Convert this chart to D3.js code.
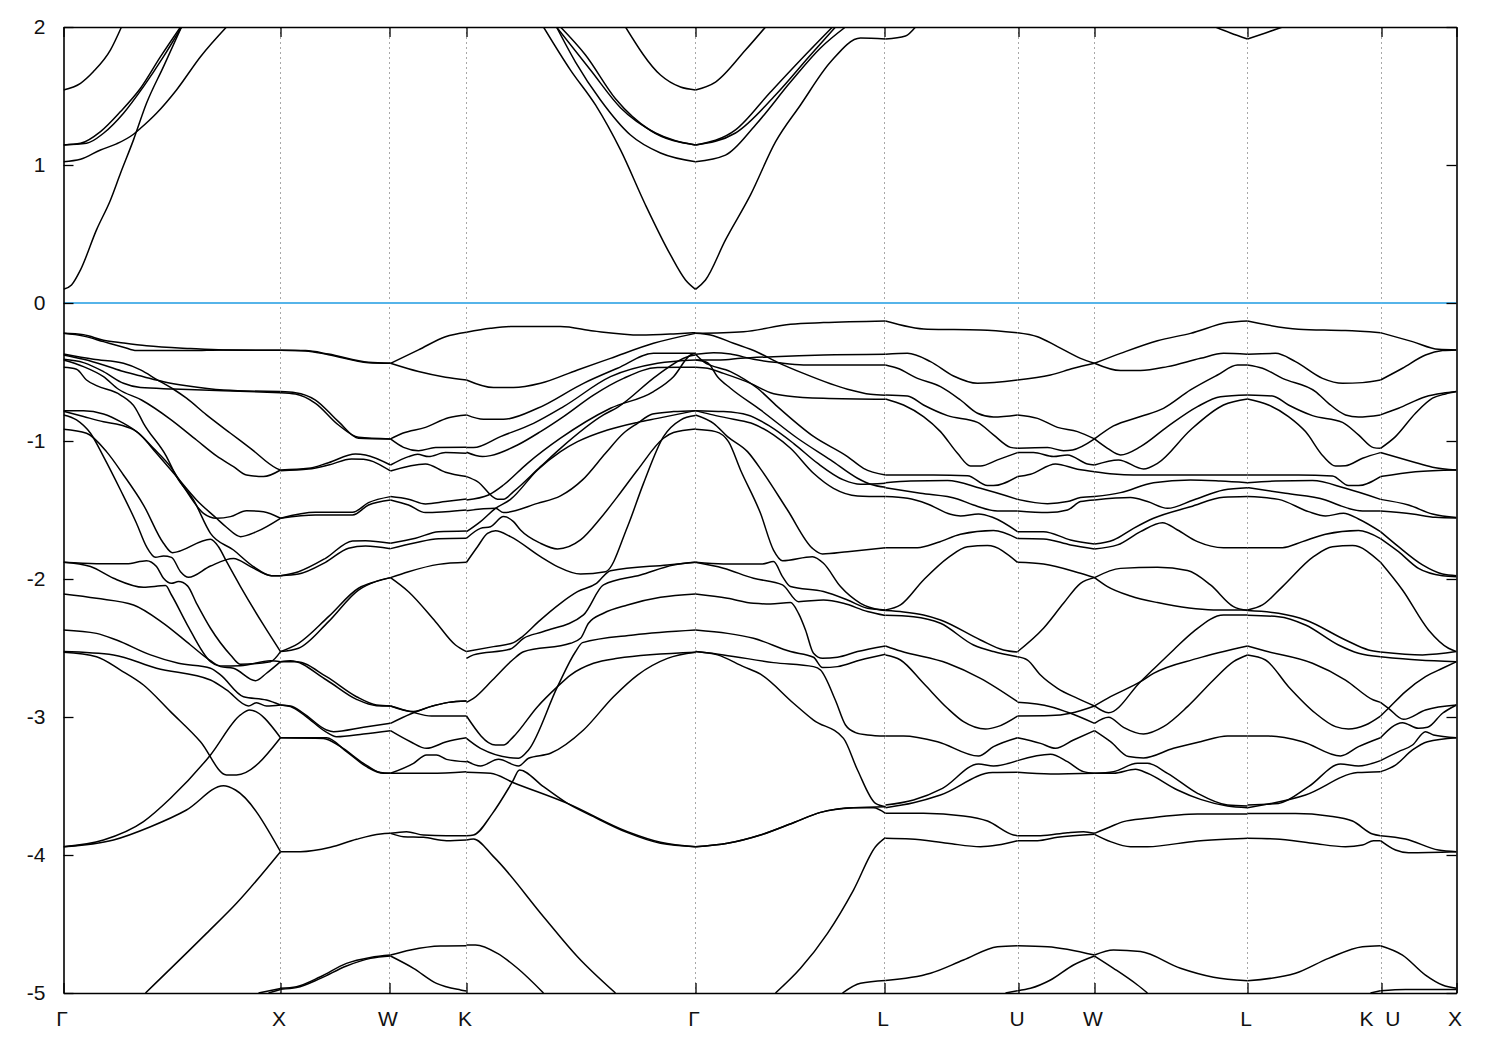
<!DOCTYPE html>
<html><head><meta charset="utf-8">
<script src="https://cdn.jsdelivr.net/npm/d3@7"></script>
<style>html,body{margin:0;padding:0;background:#fff}svg{display:block}</style>
</head><body><svg id="c" width="1500" height="1050"></svg>
<script>
const kTicks=[0,217,326,403,632,821,955,1031,1184,1318,1393];
const kLabels=["Γ","X","W","K","Γ","L","U","W","L","K  U","X"];
const energyTicks=[2,1,0,-1,-2,-3,-4,-5];
const fermiLevel=0;
// each band: k, E, k, E ...
const pathGammaX=[
[0,1.544,17,1.592,30,1.677,47,1.834,58,2],
[0,1.145,17,1.157,37,1.242,57,1.387,77,1.556,97,1.785,117,2],
[0,1.145,23,1.157,40,1.23,60,1.375,80,1.568,100,1.785,118,2],
[0,1.024,17,1.041,37,1.109,53,1.153,70,1.223,77,1.266,93,1.375,113,1.544,137,1.785,163,2],
[0,.099,8,.13,17,.24,33,.53,47,.747,57,.94,70,1.182,83,1.447,100,1.713,118,2],
[0,-.22,20,-.23,40,-.27,60,-.29,83,-.31,127,-.33,160,-.34,217,-.343],
[0,-.22,20,-.24,40,-.28,60,-.32,73,-.345,127,-.345,160,-.34,217,-.343],
[0,-.37,30,-.408,60,-.437,77,-.485,93,-.553,110,-.625,123,-.69,143,-.811,167,-.944,187,-1.053,213,-1.198,217,-1.21],
[0,-.377,20,-.408,40,-.449,60,-.497,80,-.534,100,-.57,123,-.599,160,-.63,217,-.642],
[0,-.408,20,-.432,40,-.497,60,-.582,77,-.613,110,-.623,160,-.635,217,-.65],
[0,-.413,20,-.461,40,-.534,55,-.625,78,-.703,107,-.843,133,-.993,153,-1.108,170,-1.186,183,-1.246,200,-1.258,217,-1.21],
[0,-.466,13,-.48,23,-.558,33,-.599,57,-.667,72,-.763,80,-.872,103,-1.113,113,-1.258,130,-1.427,147,-1.669,170,-1.79,190,-1.91,208,-1.976,217,-1.976],
[0,-.78,20,-.78,40,-.804,57,-.86,77,-.956,93,-1.089,113,-1.258,133,-1.427,153,-1.56,163,-1.625,177,-1.693,193,-1.657,217,-1.56],
[0,-.785,20,-.823,40,-.86,57,-.884,73,-.932,90,-1.053,107,-1.186,120,-1.331,140,-1.524,153,-1.56,167,-1.548,183,-1.505,200,-1.512,217,-1.56],
[0,-.811,13,-.847,27,-.944,40,-1.113,57,-1.355,73,-1.596,83,-1.766,92,-1.843,100,-1.833,108,-1.843,117,-1.947,125,-1.988,147,-1.906,170,-1.852,187,-1.91,208,-1.976,217,-1.976],
[0,-.915,23,-.944,43,-1.077,60,-1.246,80,-1.464,100,-1.741,109,-1.809,147,-1.712,155,-1.766,163,-1.873,177,-2.055,200,-2.333,217,-2.526],
[0,-1.879,33,-1.889,63,-1.889,83,-1.867,93,-1.91,100,-1.995,108,-2.031,115,-2.019,124,-2.05,133,-2.176,147,-2.357,167,-2.55,177,-2.618,207,-2.599,217,-2.526],
[0,-1.879,27,-1.91,50,-1.995,80,-2.06,102,-2.048,108,-2.116,123,-2.321,147,-2.599,157,-2.635,170,-2.647,192,-2.737,203,-2.683,217,-2.599],
[0,-2.109,33,-2.14,70,-2.188,100,-2.321,127,-2.478,147,-2.592,157,-2.63,177,-2.628,207,-2.592,217,-2.599],
[0,-2.369,33,-2.394,53,-2.442,87,-2.55,115,-2.611,147,-2.647,157,-2.695,180,-2.853,203,-2.877,217,-2.913],
[0,-2.526,50,-2.55,93,-2.647,147,-2.732,163,-2.804,185,-2.92,193,-2.896,203,-2.92,217,-2.913],
[0,-2.531,33,-2.563,57,-2.66,80,-2.768,107,-2.961,137,-3.179,163,-3.42,173,-3.42,217,-3.15],
[0,-3.94,40,-3.891,80,-3.758,107,-3.589,147,-3.275,177,-2.985,186,-2.949,217,-3.15],
[0,-3.94,50,-3.891,87,-3.795,123,-3.674,160,-3.498,172,-3.529,217,-3.976],
[82,-5,143,-4.568,173,-4.35,217,-3.976],
[195,-5,217,-4.968],
[205,-5,217,-4.975]
];
const pathXW=[
[217,-.343,242,-.345,265,-.37,305,-.43,327,-.437],
[217,-.343,242,-.347,265,-.375,305,-.433,327,-.437],
[217,-.642,232,-.65,252,-.703,275,-.86,295,-.98,327,-.985],
[217,-.65,232,-.66,252,-.727,275,-.884,295,-.973,327,-.985],
[217,-1.21,245,-1.198,265,-1.157,292,-1.094,302,-1.101,327,-1.174],
[217,-1.215,245,-1.203,265,-1.174,288,-1.13,300,-1.133,327,-1.217],
[217,-1.56,252,-1.517,289,-1.517,305,-1.447,327,-1.403],
[217,-1.56,252,-1.536,289,-1.536,305,-1.464,327,-1.427],
[217,-1.976,235,-1.947,262,-1.85,289,-1.724,302,-1.722,327,-1.741],
[217,-1.976,235,-1.964,262,-1.879,285,-1.777,302,-1.76,327,-1.78],
[217,-2.526,235,-2.466,265,-2.273,295,-2.067,312,-2.019,327,-1.99],
[217,-2.526,235,-2.502,265,-2.309,295,-2.08,312,-2.019,327,-1.99],
[217,-2.599,233,-2.599,263,-2.708,293,-2.853,313,-2.913,327,-2.92],
[217,-2.599,227,-2.592,263,-2.732,293,-2.872,313,-2.918,327,-2.92],
[217,-2.913,227,-2.92,240,-2.973,263,-3.094,270,-3.106,300,-3.075,327,-3.046],
[217,-2.913,227,-2.925,242,-2.993,262,-3.106,273,-3.143,300,-3.123,327,-3.099],
[217,-3.15,260,-3.155,277,-3.215,300,-3.336,317,-3.403,327,-3.408],
[217,-3.15,263,-3.15,283,-3.251,303,-3.36,320,-3.408,327,-3.408],
[217,-3.976,237,-3.976,267,-3.944,293,-3.886,317,-3.848,327,-3.843],
[217,-4.966,233,-4.954,257,-4.882,283,-4.785,307,-4.742,327,-4.725],
[217,-4.973,233,-4.961,257,-4.894,283,-4.804,307,-4.749,327,-4.732]
];
const pathWK=[
[327,-.437,355,-.34,382,-.244,403,-.212],
[327,-.437,355,-.497,382,-.538,403,-.558],
[327,-.985,339,-.944,362,-.901,385,-.831,403,-.811],
[327,-.985,340,-1.046,355,-1.07,372,-1.048,403,-1.046],
[327,-1.174,345,-1.113,354,-1.096,365,-1.113,382,-1.084,403,-1.089],
[327,-1.217,362,-1.166,382,-1.227,403,-1.258],
[327,-1.403,345,-1.422,362,-1.456,382,-1.439,403,-1.42],
[327,-1.427,345,-1.464,362,-1.519,382,-1.512,403,-1.5],
[327,-1.741,352,-1.705,375,-1.657,403,-1.652],
[327,-1.78,352,-1.737,375,-1.708,403,-1.705],
[327,-1.99,345,-1.947,375,-1.894,403,-1.879],
[327,-1.99,345,-2.092,372,-2.309,392,-2.478,403,-2.526],
[327,-2.92,347,-2.961,368,-2.993,403,-2.993],
[327,-2.92,350,-2.961,367,-2.925,385,-2.894,403,-2.884],
[327,-3.046,347,-2.978,367,-2.925,385,-2.894,403,-2.884],
[327,-3.099,347,-3.179,363,-3.227,383,-3.179,403,-3.15],
[327,-3.408,350,-3.336,363,-3.275,373,-3.275,383,-3.307,403,-3.324],
[327,-3.408,367,-3.408,403,-3.396],
[327,-3.843,343,-3.831,360,-3.855,383,-3.86,403,-3.86],
[327,-3.843,340,-3.867,360,-3.872,383,-3.896,403,-3.891],
[327,-4.725,347,-4.688,377,-4.659,403,-4.657],
[327,-4.732,350,-4.821,373,-4.93,397,-4.978,403,-4.986]
];
const pathKGamma=[
[480,2,507,1.688,532,1.435,557,1.109,582,.71,607,.348,622,.167,632,.099],
[493,2,512,1.746,537,1.471,567,1.217,597,1.087,632,1.024],
[493,2,527,1.688,557,1.415,592,1.232,632,1.145],
[497,2,522,1.797,552,1.48,587,1.25,632,1.145],
[562,2,597,1.652,617,1.565,632,1.544],
[403,-.212,427,-.183,447,-.171,497,-.171,530,-.203,577,-.232,610,-.224,632,-.215],
[403,-.558,430,-.613,450,-.613,477,-.582,514,-.485,547,-.401,590,-.292,632,-.22],
[403,-.811,420,-.843,440,-.843,474,-.763,520,-.582,554,-.473,590,-.365,632,-.365],
[403,-1.048,410,-1.048,437,-.968,470,-.872,500,-.751,547,-.534,594,-.437,632,-.413],
[403,-1.082,419,-1.113,427,-1.106,454,-1.029,477,-.932,500,-.823,530,-.667,560,-.546,594,-.468,632,-.466],
[403,-1.427,425,-1.391,440,-1.319,464,-1.162,497,-.98,547,-.763,590,-.642,610,-.534,627,-.377,632,-.365],
[403,-1.258,414,-1.294,434,-1.422,440,-1.422,450,-1.367,477,-1.186,497,-1.053,540,-.811,554,-.756,594,-.522,624,-.389,632,-.377],
[403,-1.657,417,-1.584,432,-1.488,447,-1.423,474,-1.21,497,-1.077,514,-1.005,544,-.92,574,-.865,594,-.836,632,-.78],
[403,-1.505,432,-1.488,440,-1.519,474,-1.452,497,-1.398,519,-1.282,542,-1.089,560,-.944,574,-.872,589,-.804,610,-.787,632,-.78],
[403,-1.705,417,-1.633,427,-1.621,440,-1.548,450,-1.584,457,-1.645,477,-1.741,494,-1.782,517,-1.717,537,-1.56,554,-1.403,574,-1.21,600,-.98,610,-.939,632,-.913],
[403,-1.879,414,-1.766,424,-1.669,432,-1.65,447,-1.693,477,-1.838,494,-1.91,517,-1.964,542,-1.947,564,-1.621,580,-1.307,600,-.968,617,-.848,632,-.816],
[403,-2.526,430,-2.49,450,-2.461,459,-2.417,475,-2.309,497,-2.176,514,-2.092,533,-2.031,547,-1.94,604,-1.898,632,-1.879],
[403,-2.575,410,-2.55,447,-2.507,460,-2.43,480,-2.381,520,-2.26,540,-2.043,577,-1.971,610,-1.898,632,-1.879],
[403,-2.894,410,-2.865,429,-2.732,449,-2.587,460,-2.527,507,-2.466,517,-2.43,525,-2.321,540,-2.248,564,-2.188,597,-2.133,632,-2.109],
[403,-2.993,432,-3.203,440,-3.203,450,-3.142,474,-2.925,494,-2.78,507,-2.696,530,-2.611,554,-2.575,632,-2.531],
[403,-3.155,417,-3.227,455,-3.299,465,-3.239,494,-2.78,512,-2.527,519,-2.461,570,-2.405,632,-2.369],
[403,-3.319,417,-3.355,435,-3.307,455,-3.355,465,-3.299,487,-3.263,520,-3.094,550,-2.853,574,-2.696,604,-2.575,632,-2.531],
[403,-3.401,427,-3.408,450,-3.476,504,-3.626,564,-3.831,597,-3.908,632,-3.94],
[403,-3.86,410,-3.855,429,-3.698,449,-3.469,456,-3.384,480,-3.505,504,-3.626,530,-3.722,564,-3.838,597,-3.915,632,-3.94],
[403,-3.891,410,-3.884,430,-4.012,480,-4.447,514,-4.737,552,-5],
[403,-4.652,412,-4.652,434,-4.713,454,-4.821,480,-5]
];
const pathGammaL=[
[632,1.544,652,1.601,682,1.833,702,2],
[632,1.145,672,1.232,712,1.507,747,1.797,772,2],
[632,1.145,672,1.254,707,1.529,737,1.761,769,2],
[632,1.024,662,1.072,692,1.29,727,1.601,757,1.848,782,2],
[632,.099,642,.167,662,.457,687,.783,712,1.167,737,1.435,767,1.746,797,1.92,822,1.913],
[632,-.22,680,-.208,727,-.154,760,-.142,822,-.13],
[632,-.22,647,-.232,670,-.292,694,-.357,714,-.43,740,-.51,784,-.625,807,-.662,822,-.669],
[632,-.413,657,-.413,677,-.401,710,-.389,760,-.377,822,-.372],
[632,-.372,650,-.36,667,-.37,690,-.408,714,-.432,740,-.449,822,-.449],
[632,-.372,640,-.425,667,-.497,694,-.618,714,-.751,750,-.967,784,-1.113,800,-1.198,822,-1.246],
[632,-.466,644,-.473,660,-.51,687,-.582,707,-.65,724,-.674,760,-.691,822,-.698],
[632,-.413,644,-.432,654,-.534,667,-.618,697,-.775,734,-.98,767,-1.137,794,-1.27,807,-1.314,822,-1.336],
[632,-.78,660,-.787,684,-.811,707,-.896,730,-1.017,754,-1.161,780,-1.282,797,-1.314,822,-1.307],
[632,-.78,647,-.807,670,-.843,690,-.877,710,-.956,727,-1.053,750,-1.234,770,-1.343,794,-1.398,822,-1.403],
[632,-.811,650,-.872,664,-.968,684,-1.077,699,-1.222,724,-1.5,749,-1.778,759,-1.819,784,-1.802,822,-1.773],
[632,-.915,652,-.932,665,-1.005,677,-1.21,697,-1.524,710,-1.79,719,-1.867,749,-1.838,760,-1.886,777,-2.055,797,-2.176,817,-2.224,822,-2.229],
[632,-1.879,660,-1.891,699,-1.891,710,-1.874,719,-1.983,727,-2.055,760,-2.091,784,-2.152,804,-2.212,822,-2.224],
[632,-1.879,660,-1.922,690,-1.995,719,-2.043,735,-2.164,760,-2.152,780,-2.176,804,-2.236,822,-2.265],
[632,-2.109,664,-2.14,690,-2.176,707,-2.181,727,-2.171,735,-2.249,742,-2.369,750,-2.538,759,-2.575,774,-2.567,794,-2.526,822,-2.485],
[632,-2.369,664,-2.394,690,-2.43,727,-2.526,750,-2.567,759,-2.642,774,-2.635,797,-2.587,822,-2.546],
[632,-2.526,660,-2.55,710,-2.606,750,-2.635,757,-2.659,772,-2.88,782,-3.058,792,-3.113,804,-3.13,822,-3.138],
[632,-2.526,654,-2.55,680,-2.635,697,-2.69,730,-2.9,750,-3.022,780,-3.155,794,-3.384,812,-3.626,822,-3.65],
[632,-3.94,664,-3.915,697,-3.855,730,-3.766,757,-3.691,790,-3.657,822,-3.65],
[632,-3.94,664,-3.915,697,-3.855,730,-3.766,757,-3.691,790,-3.657,810,-3.657,822,-3.698],
[712,-5,737,-4.821,764,-4.568,790,-4.254,812,-3.94,822,-3.874],
[779,-5,797,-4.93,822,-4.91]
];
const pathLU=[
[822,1.913,842,1.935,852,2],
[822,-.13,864,-.19,917,-.195,954,-.215],
[822,-.372,844,-.365,867,-.425,890,-.529,914,-.582,954,-.558],
[822,-.449,834,-.473,854,-.546,877,-.606,897,-.703,914,-.799,930,-.826,954,-.811],
[822,-.667,844,-.674,860,-.739,884,-.816,914,-.865,930,-.956,947,-1.046,954,-1.053],
[822,-.695,840,-.739,860,-.823,877,-.932,894,-1.089,907,-1.181,917,-1.181,934,-1.137,954,-1.084],
[822,-1.246,870,-1.246,904,-1.251,924,-1.323,930,-1.323,954,-1.258],
[822,-1.302,847,-1.29,884,-1.287,917,-1.343,954,-1.423],
[822,-1.338,857,-1.379,894,-1.42,910,-1.464,934,-1.507,954,-1.507],
[822,-1.403,844,-1.415,864,-1.456,887,-1.531,897,-1.543,915,-1.529,929,-1.553,954,-1.657],
[822,-1.773,854,-1.773,874,-1.736,897,-1.676,930,-1.649,954,-1.707],
[822,-2.224,837,-2.188,860,-2.007,885,-1.843,904,-1.766,924,-1.758,954,-1.879],
[822,-2.229,840,-2.239,860,-2.261,877,-2.297,917,-2.442,940,-2.514,954,-2.529],
[822,-2.263,850,-2.273,877,-2.321,910,-2.478,930,-2.526,954,-2.563],
[822,-2.485,837,-2.522,884,-2.611,917,-2.72,954,-2.889],
[822,-2.551,837,-2.587,860,-2.756,884,-2.937,900,-3.034,922,-3.087,934,-3.07,954,-2.993],
[822,-3.138,840,-3.138,874,-3.179,915,-3.283,930,-3.215,954,-3.15],
[822,-3.638,850,-3.601,879,-3.517,915,-3.341,930,-3.355,954,-3.316],
[822,-3.657,850,-3.621,877,-3.565,929,-3.403,954,-3.401],
[822,-3.698,860,-3.698,900,-3.717,924,-3.754,950,-3.855,954,-3.86],
[822,-3.879,847,-3.884,884,-3.915,917,-3.94,934,-3.928,954,-3.896],
[822,-4.91,867,-4.857,900,-4.761,934,-4.664,954,-4.657],
[942,-5,954,-4.983]
];
const pathUW=[
[954,-.215,974,-.244,994,-.316,1017,-.401,1031,-.437],
[954,-.558,987,-.522,1010,-.473,1031,-.437],
[954,-.811,974,-.836,994,-.901,1014,-.932,1031,-.985],
[954,-1.053,984,-1.048,1000,-1.07,1009,-1.065,1031,-.985],
[954,-1.084,970,-1.084,990,-1.113,1004,-1.101,1024,-1.166,1031,-1.174],
[954,-1.258,967,-1.241,992,-1.166,1014,-1.205,1031,-1.222],
[954,-1.423,984,-1.454,1004,-1.439,1017,-1.41,1031,-1.403],
[954,-1.507,984,-1.519,1004,-1.5,1017,-1.439,1031,-1.427],
[954,-1.657,980,-1.657,1007,-1.717,1031,-1.746],
[954,-1.707,980,-1.71,1007,-1.753,1031,-1.782],
[954,-1.879,980,-1.891,1017,-1.959,1031,-1.99],
[954,-2.527,980,-2.357,1000,-2.176,1017,-2.031,1031,-1.99],
[954,-2.563,964,-2.587,977,-2.696,994,-2.792,1014,-2.865,1031,-2.92],
[954,-2.894,987,-2.925,1007,-2.973,1031,-3.046],
[954,-2.993,987,-2.99,1007,-2.973,1031,-2.92],
[954,-3.15,977,-3.191,992,-3.227,1010,-3.167,1031,-3.099],
[954,-3.316,987,-3.27,1004,-3.324,1020,-3.396,1031,-3.408],
[954,-3.401,987,-3.413,1031,-3.408],
[954,-3.86,977,-3.86,1004,-3.838,1020,-3.831,1031,-3.843],
[954,-3.896,974,-3.896,994,-3.872,1031,-3.85],
[954,-4.657,984,-4.664,1031,-4.725],
[954,-4.983,967,-4.966,987,-4.906,1010,-4.797,1031,-4.732]
];
const pathWL=[
[1152,2,1167,1.957,1184,1.913],
[1031,-.437,1057,-.365,1094,-.273,1127,-.22,1164,-.142,1184,-.13],
[1031,-.437,1057,-.49,1077,-.49,1104,-.461,1137,-.401,1160,-.365,1184,-.372],
[1031,-.985,1050,-.891,1077,-.823,1100,-.763,1127,-.63,1154,-.522,1174,-.449,1184,-.449],
[1031,-.985,1044,-1.053,1057,-1.101,1077,-1.041,1104,-.896,1134,-.751,1157,-.679,1184,-.667],
[1031,-1.174,1055,-1.137,1080,-1.203,1094,-1.162,1127,-.92,1160,-.739,1184,-.695],
[1031,-1.222,1050,-1.239,1070,-1.246,1127,-1.246,1184,-1.246],
[1031,-1.403,1057,-1.374,1090,-1.302,1127,-1.282,1157,-1.29,1184,-1.302],
[1031,-1.427,1067,-1.41,1084,-1.439,1104,-1.488,1130,-1.427,1160,-1.355,1184,-1.338],
[1031,-1.746,1050,-1.717,1070,-1.633,1090,-1.56,1127,-1.476,1160,-1.408,1184,-1.403],
[1031,-1.782,1054,-1.753,1077,-1.657,1099,-1.592,1114,-1.645,1134,-1.729,1160,-1.773,1184,-1.773],
[1031,-1.99,1057,-1.923,1094,-1.915,1124,-1.939,1147,-2.043,1170,-2.2,1184,-2.229],
[1031,-1.99,1044,-2.055,1067,-2.123,1094,-2.171,1150,-2.224,1184,-2.224],
[1031,-2.92,1047,-2.853,1077,-2.744,1090,-2.684,1134,-2.575,1184,-2.485],
[1031,-2.92,1045,-2.969,1077,-2.744,1089,-2.66,1110,-2.514,1130,-2.381,1160,-2.261,1184,-2.261],
[1031,-3.046,1045,-3.002,1060,-3.075,1080,-3.123,1100,-3.07,1124,-2.925,1150,-2.732,1170,-2.599,1184,-2.551],
[1031,-3.099,1047,-3.179,1065,-3.287,1080,-3.297,1110,-3.227,1137,-3.179,1164,-3.138,1184,-3.138],
[1031,-3.408,1050,-3.396,1074,-3.336,1084,-3.336,1104,-3.408,1134,-3.553,1164,-3.638,1184,-3.645],
[1031,-3.408,1050,-3.408,1072,-3.379,1084,-3.408,1114,-3.529,1137,-3.597,1164,-3.645,1184,-3.657],
[1031,-3.843,1047,-3.795,1060,-3.758,1084,-3.734,1134,-3.703,1184,-3.703],
[1031,-3.85,1047,-3.903,1067,-3.94,1084,-3.94,1134,-3.898,1167,-3.884,1184,-3.879],
[1031,-4.725,1050,-4.688,1077,-4.7,1117,-4.821,1150,-4.886,1184,-4.911],
[1031,-4.732,1050,-4.821,1074,-4.942,1084,-5]
];
const pathLK=[
[1184,1.913,1202,1.957,1219,2],
[1184,-.13,1235,-.19,1282,-.2,1317,-.215],
[1184,-.372,1212,-.365,1232,-.425,1259,-.546,1279,-.582,1299,-.577,1317,-.558],
[1184,-.449,1199,-.473,1219,-.546,1252,-.642,1265,-.727,1282,-.811,1295,-.826,1317,-.811],
[1184,-.667,1209,-.674,1225,-.739,1249,-.816,1279,-.865,1295,-.956,1310,-1.048,1317,-1.053],
[1184,-.695,1205,-.739,1225,-.823,1242,-.932,1260,-1.113,1272,-1.181,1282,-1.179,1299,-1.125,1317,-1.084],
[1184,-1.246,1235,-1.246,1269,-1.253,1285,-1.323,1295,-1.323,1317,-1.258],
[1184,-1.302,1212,-1.29,1249,-1.287,1282,-1.343,1317,-1.423],
[1184,-1.338,1222,-1.379,1262,-1.427,1275,-1.464,1299,-1.507,1317,-1.507],
[1184,-1.403,1215,-1.423,1245,-1.512,1262,-1.543,1280,-1.524,1295,-1.565,1317,-1.657],
[1184,-1.773,1219,-1.773,1239,-1.729,1262,-1.676,1295,-1.649,1317,-1.707],
[1184,-2.224,1199,-2.188,1219,-2.055,1250,-1.838,1269,-1.766,1289,-1.758,1317,-1.879],
[1184,-2.229,1215,-2.249,1242,-2.297,1282,-2.442,1305,-2.514,1317,-2.529],
[1184,-2.263,1215,-2.273,1242,-2.333,1275,-2.478,1295,-2.538,1317,-2.563],
[1184,-2.485,1202,-2.522,1249,-2.611,1282,-2.732,1310,-2.877,1317,-2.894],
[1184,-2.551,1202,-2.587,1225,-2.78,1252,-2.973,1272,-3.07,1285,-3.087,1302,-3.058,1317,-2.993],
[1184,-3.138,1205,-3.138,1239,-3.179,1277,-3.283,1295,-3.215,1317,-3.15],
[1184,-3.638,1215,-3.626,1245,-3.505,1277,-3.341,1295,-3.355,1317,-3.316],
[1184,-3.657,1242,-3.565,1294,-3.403,1317,-3.396],
[1184,-3.7,1232,-3.7,1265,-3.717,1289,-3.754,1309,-3.848,1317,-3.86],
[1184,-3.879,1212,-3.884,1249,-3.915,1282,-3.94,1299,-3.928,1310,-3.896,1317,-3.896],
[1184,-4.911,1232,-4.857,1265,-4.749,1299,-4.664,1317,-4.657],
[1307,-5,1317,-4.983]
];
const pathKX=[
[1317,-.215,1349,-.28,1375,-.336,1393,-.34],
[1317,-.558,1339,-.473,1362,-.377,1379,-.345,1393,-.34],
[1317,-.811,1335,-.763,1362,-.679,1379,-.654,1393,-.642],
[1317,-1.053,1332,-.968,1352,-.799,1369,-.69,1382,-.659,1393,-.642],
[1317,-1.084,1349,-1.15,1369,-1.19,1393,-1.21],
[1317,-1.258,1352,-1.222,1393,-1.21],
[1317,-1.423,1345,-1.464,1369,-1.529,1393,-1.555],
[1317,-1.507,1349,-1.529,1372,-1.553,1393,-1.558],
[1317,-1.657,1335,-1.766,1359,-1.898,1379,-1.964,1393,-1.976],
[1317,-1.707,1335,-1.802,1355,-1.923,1379,-1.976,1393,-1.983],
[1317,-1.879,1339,-2.08,1365,-2.369,1385,-2.502,1393,-2.526],
[1317,-2.529,1359,-2.55,1393,-2.526],
[1317,-2.563,1355,-2.587,1393,-2.599],
[1317,-2.993,1325,-2.937,1342,-2.816,1362,-2.708,1379,-2.647,1393,-2.599],
[1317,-2.894,1325,-2.937,1340,-3.017,1362,-2.949,1393,-2.913],
[1317,-3.15,1339,-3.041,1355,-3.082,1364,-3.075,1379,-2.973,1393,-2.913],
[1317,-3.316,1335,-3.251,1349,-3.203,1362,-3.106,1370,-3.13,1393,-3.15],
[1317,-3.396,1332,-3.348,1349,-3.239,1364,-3.179,1393,-3.15],
[1317,-3.86,1342,-3.884,1375,-3.964,1393,-3.976],
[1317,-3.896,1332,-3.964,1345,-3.983,1393,-3.976],
[1317,-4.657,1339,-4.725,1362,-4.87,1379,-4.942,1393,-4.966],
[1317,-4.983,1342,-4.974,1393,-4.974]
];
const allPaths=[pathGammaX,pathXW,pathWK,pathKGamma,pathGammaL,pathLU,pathUW,pathWL,pathLK,pathKX];

const x=d3.scaleLinear().domain([0,1393]).range([63.5,1456.5]);
const y=d3.scaleLinear().domain([-5,2]).range([993,27]);
const svg=d3.select("#c");
const font='"Liberation Sans",Arial,sans-serif';
svg.append("defs").append("clipPath").attr("id","plot").append("rect")
  .attr("x",x(0)).attr("y",y(2)).attr("width",x(1393)-x(0)).attr("height",y(-5)-y(2));

svg.append("g").selectAll("line").data(kTicks.slice(1,-1)).join("line")
  .attr("x1",d=>x(d)).attr("x2",d=>x(d)).attr("y1",y(2)).attr("y2",y(-5))
  .attr("stroke","#a8a8a8").attr("stroke-width",1).attr("stroke-dasharray","2,3");

const line=d3.line().x(d=>x(d[0])).y(d=>y(d[1])).curve(d3.curveMonotoneX);
const toPairs=b=>d3.range(0,b.length,2).map(i=>[b[i],b[i+1]]);
const g=svg.append("g").attr("clip-path","url(#plot)");
g.append("line").attr("x1",x(0)).attr("x2",x(1393)).attr("y1",y(fermiLevel)).attr("y2",y(fermiLevel))
  .attr("stroke","#56b4e9").attr("stroke-width",2);
allPaths.forEach(p=>{
  g.append("g").selectAll("path").data(p).join("path")
    .attr("d",b=>line(toPairs(b))).attr("fill","none").attr("stroke","#000").attr("stroke-width",1.5);
});

function styleAxis(a,labels){
  a.select(".domain").attr("stroke","#000").attr("stroke-width",1.6);
  a.selectAll(".tick line").attr("stroke","#000").attr("stroke-width",1.3);
  a.selectAll("text").attr("font-family",font).attr("font-size",21).attr("fill","#111");
  if(!labels)a.selectAll("text").remove();
}
const yL=svg.append("g").attr("transform",`translate(${x(0)},0)`)
  .call(d3.axisLeft(y).tickValues(energyTicks).tickSize(-10).tickSizeOuter(0).tickPadding(18).tickFormat(d=>String(d)));
styleAxis(yL,true);
const yR=svg.append("g").attr("transform",`translate(${x(1393)},0)`)
  .call(d3.axisRight(y).tickValues(energyTicks).tickSize(-10).tickSizeOuter(0));
styleAxis(yR,false);
const xT=svg.append("g").attr("transform",`translate(0,${y(2)})`)
  .call(d3.axisTop(x).tickValues(kTicks).tickSize(-10).tickSizeOuter(0));
styleAxis(xT,false);
const xB=svg.append("g").attr("transform",`translate(0,${y(-5)})`)
  .call(d3.axisBottom(x).tickValues(kTicks).tickSize(-10).tickSizeOuter(0).tickPadding(18).tickFormat((d,i)=>kLabels[i]));
styleAxis(xB,true);
xB.selectAll("text").attr("dx",-2).style("white-space","pre");
yL.selectAll("text").attr("x",-18).attr("dy","0.31em");
</script></body></html>
